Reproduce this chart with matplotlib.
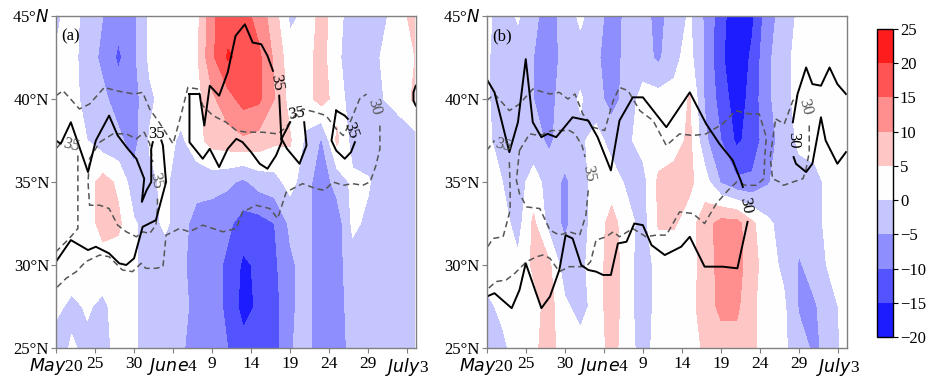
import numpy as np
import matplotlib
matplotlib.use('Agg')
import matplotlib.pyplot as plt

plt.rcParams['font.family'] = ['Liberation Serif', 'DejaVu Serif']
plt.rcParams['mathtext.fontset'] = 'dejavusans'

# ---------------- grid ----------------
days = np.arange(0, 47, 2)          # days since May 20
lats = [25, 27.5, 30, 32.5, 35, 37.5, 40, 42.5, 45]
levels = [-20, -15, -10, -5, 0, 5, 10, 15, 20, 25]
xtick_pos = [0, 5, 10, 15, 20, 25, 30, 35, 40, 45]
xtick_labels = ['$May$20', '25', '30', '$June$4', '9', '14', '19', '24', '29', '$July$3']
ytick_pos = [25, 30, 35, 40, 45]
ytick_labels = ['25°N', '30°N', '35°N', '40°N', '45°$N$']

# ---------------- panel (a) shaded field (rows by latitude) ----------------
a45   = [-1, 2, -2, -5, -8, -6, 1, 3, 3, 3, 14, 18, 17, 13, 7, -1, 1, 7, 2, -3, -3, -1, 3, 7]
a42_5 = [0.5, 2, -3, -6, -11, -6, 1, 3, 3, 4, 14, 20.5, 19, 16, 9, 2, 3, 7, 1, -3, -3, 1, 3, 5]
a40   = [2, 2, -2, -4, -7, -7, -1, 2, 2.5, 3, 9, 13, 17, 16, 10, 3, 3, 7, 3, -3, -3, 0, 2, 6]
a37_5 = [2, 2, 0, -3, -4, -7, 0.5, 2, -1, 3, 7, 8, 9, 8, 6, 5.5, -1, -5.5, 6, -2, -3, -3, -3, -2]
a35   = [2, 2.5, 2.5, 7, 4, -3, -1, 1, -3, -3, -3, -4, -6, -3, -2, 2, -3, -8, -3, 1, 0.5, -3, -3, -3]
a32_5 = [2.5, 2.5, 2.5, 7, 6, 0.5, -2, 1, -3, -7, -8, -9, -12, -12, -10, -4, -3, -8, -8, 1, -1, -3, -3, -3]
a30   = [2.5, 2.5, 2.5, 2.5, 2.5, 1, -3, -3, -4, -7, -8, -11, -16, -14, -11, -6, -3, -8, -7, -2, -2, -4, -4, -3]
a27_5 = [1, -1, 0.5, -1, 2, 1, -3, -3, -3, -7, -8, -11, -17, -14, -12, -6, -3, -8, -7, -3, -3, -3, -3, -3]
a25   = [-2, 0.5, -1, -2, 2, 1, -3, -3, -4, -8, -8, -10, -13, -13, -12, -5.5, -3, -8, -8, -3, -3, -3, -3, -3]

# ---------------- panel (b) shaded field ----------------
b45   = [1, -2, 0.5, -4, -7, -3, 1, -3, -7, -4, -3, -7, -2, 0.5, -6, -13, -19, -16, -7, -3, 1, 2.5, 2.5, 2.5]
b42_5 = [0.5, -2, -2, -5, -8, -3, -2, -4, -8, -3, -3, -6, -1, 1.5, -6, -14, -19, -14, -6, -2, 2, 2.5, 2.5, 2.5]
b40   = [0.5, -2, -2, -5, -7, -2, 0.5, -3, -7, -3, 2, 2, 1, 5.5, -6, -12, -18, -13, -6, -2, 2, 3, 2.5, 2.5]
b37_5 = [1, -2, -2, -3, -6, -2, -1, 2, -2, -1, 2, 2, 3, 6, -4, -10, -16, -13, -7, -3, 1, 2.5, 2.5, 2.5]
b35   = [2, 0, -2, 2, -2, -6, -2, 2, 2.5, -1, -2, 6, 7, 6, 2, -5.5, -9, -9, -5.5, -2, -2, -2, 2, 2.5]
b32_5 = [2, 2, -2, 6, -2, -6, -2, 2, 7, 2, -2, 5.5, 5.5, 3, 8, 12, 12, 6, 1, -2, -3, -2, 2, 2.5]
b30   = [2, 2, 1, 6, 6, -3, -1, 2, 8, 2, -3, 2, 2, 3, 7, 12, 12, 7, 2, -1, -5.5, -3, 1, 2.5]
b27_5 = [-1, 1, 2, 3, 7, 1, -2, 2, 8, 2, -3, 2, 2, 3, 8, 11, 11, 6, 2, 1, -5.5, -5.5, -2, 2]
b25   = [-3, -1, 2, 4, 7, 2, 2, 2, 7, 2, -2, 2, 2, 2.5, 6, 8, 8, 6, 2, 1, -3, -6, -3, 2]

N = None
# ---------------- panel (a) contour lines (day, lat) ----------------
a_solid1 = [(0, 37.5), (0.6, 37.3), (1.9, 38.6), (4.1, 35.6), (5.1, 37.5), (6.8, 39.0), (7.9, 37.8),
            (9.2, 37.0), (10.3, 36.4), (11.3, 35.2), (11.0, 33.8), (11.6, 34.5), (12.2, 35.0),
            (12.2, 37.0), (12.4, 37.4), N, (13.5, 37.5), (13.7, 37.2), (14.1, 35.0), (12.8, 32.7),
            (11.1, 32.3), (10.0, 30.4), (9.0, 30.0), (8.1, 30.1), (6.8, 30.7), (5.1, 31.1),
            (4.1, 30.9), (1.9, 31.5), (0, 30.2)]
a_solid2 = [(17.1, 40.3), (18.4, 40.3), (19.0, 38.4), (19.7, 40.8), (20.9, 40.2), (22.0, 41.6),
            (23.0, 43.8), (24.2, 44.5), (25.2, 43.4), (26.3, 43.3), (27.1, 42.6), (27.8, 41.7), N,
            (28.6, 40.2), (28.9, 37.4), (28.2, 36.6), (27.1, 35.8), (26.1, 36.1), (25.0, 36.8),
            (23.9, 37.4), (23.1, 37.6), (22.0, 37.0), (20.9, 35.9), (19.7, 37.0), (18.8, 36.4),
            (17.1, 37.4), (17.1, 40.3)]
a_solid3 = [(28.9, 37.6), (30.0, 38.6), N, (31.8, 38.6), (32.1, 37.2), (31.2, 36.1), (29.6, 37.0), (28.9, 37.6)]
a_solid4 = [(35.9, 39.3), (37.0, 39.0), (37.4, 38.8), N, (38.3, 37.4), (37.8, 36.8), (37.0, 36.4),
            (35.9, 36.9), (35.3, 37.5), (35.9, 39.3)]
a_solid5 = [(46.1, 40.8), (45.8, 40.4), (45.8, 39.9), (46.1, 39.6)]
a_dash1 = [(0, 40.2), (0.9, 40.5), (3.0, 39.4), (4.3, 39.7), (6.2, 40.7), (7.7, 40.5), (10.0, 40.3),
           (11.1, 40.4), (12.0, 39.4), (13.2, 38.6), (15.0, 37.3), (16.0, 39.0), (16.9, 40.7),
           (18.2, 40.6), (18.8, 39.6), (20.1, 39.0), (21.8, 38.6), (23.1, 38.1), (24.4, 38.0),
           (26.5, 38.0), (28.4, 37.9), (29.5, 38.3), (30.6, 39.0), (31.6, 39.4), (33.3, 39.2),
           (34.6, 39.0), (35.9, 38.2), (36.8, 37.8), (37.6, 38.5), (38.9, 40.0), (39.8, 40.3), N,
           (41.5, 38.4), (41.5, 37.0), (41.0, 36.0), (40.4, 35.2), (40.2, 35.0), (39.3, 34.8),
           (38.0, 34.9), (36.8, 34.8), (35.5, 35.0), (34.4, 34.5), (33.3, 34.6), (31.6, 34.9),
           (29.5, 34.4), (28.4, 32.8), (27.4, 33.4), (25.6, 33.6), (24.8, 33.4), (23.9, 33.2),
           (23.1, 32.2), (21.4, 32.0), (20.1, 32.2), (18.8, 32.4), (17.1, 32.0), (15.8, 32.2),
           (15.0, 32.0), (14.1, 31.8), (13.9, 30.8), (13.7, 29.9), (12.8, 29.8), (11.5, 29.8),
           (10.9, 30.1), (9.8, 29.6), (8.5, 29.7), (6.8, 30.5), (5.6, 30.6), (3.8, 30.2),
           (2.6, 29.6), (1.3, 29.2), (0, 28.6)]
a_dash2 = [(5.6, 37.4), (7.3, 37.9), (9.0, 37.9), (10.3, 37.6), (11.3, 38.0), (12.0, 37.3),
           (12.4, 36.2), N, (13.0, 34.0), (13.0, 33.4), (12.8, 32.4), (12.0, 31.9), (11.1, 32.0),
           (10.3, 31.7), (9.0, 32.0), (7.9, 32.4), (6.8, 33.4), (5.6, 33.6), (4.3, 33.6),
           (4.1, 35.0), (4.3, 36.4), (5.6, 37.4)]
a_dash3 = [(0, 37.0), (0.9, 37.5), N, (2.8, 36.6), (2.8, 35.0), (2.8, 32.2), (1.7, 31.6), (0, 30.8)]
a_labels = [(12.9, 37.9, '35', 0, 'k'), (28.2, 41.0, '35', -80, 'k'), (30.9, 39.1, '35', 10, 'k'),
            (37.8, 38.1, '35', -70, 'k'), (1.9, 37.2, '35', -15, '#555555'),
            (12.8, 35.1, '35', -80, '#555555'), (40.8, 39.5, '30', -75, '#555555')]

# ---------------- panel (b) contour lines ----------------
b_solid1 = [(0, 41.2), (1.0, 40.4), (2.9, 36.8), (4.0, 38.6), (5.0, 42.4), (5.9, 38.6), (7.0, 37.7),
            (7.8, 37.9), (8.9, 37.7), (11.0, 38.9), (13.0, 38.7), (14.2, 37.7), (15.9, 35.7),
            (17.0, 38.7), (18.7, 40.1), (20.0, 40.1), (23.0, 38.3), (26.0, 40.4), (28.1, 38.5),
            (29.8, 37.3), (31.5, 36.3), (32.6, 35.0), (32.8, 34.7), N, (33.4, 32.6), (32.1, 29.8),
            (30.2, 29.9), (27.9, 29.9), (26.0, 31.7), (24.9, 31.1), (22.8, 30.6), (21.1, 31.2),
            (20.0, 32.4), (18.9, 32.5), (17.9, 31.4), (16.8, 31.3), (15.9, 29.4), (14.9, 29.4),
            (14.0, 29.6), (13.0, 29.7), (12.1, 30.0), (11.0, 31.6), (10.1, 31.8), (9.3, 29.7),
            (8.1, 28.1), (7.0, 27.4), (5.0, 30.1), (4.2, 28.5), (3.2, 27.4), (1.0, 28.3), (0, 28.1)]
b_solid2 = [(46.0, 40.3), (44.9, 40.9), (43.9, 41.9), (42.8, 40.8), (41.7, 40.9), (40.9, 41.9),
            (39.8, 40.3), (39.2, 38.6), N, (39.3, 36.5), (39.6, 36.1), (40.9, 35.6), (41.7, 36.1),
            (42.8, 38.9), (43.4, 37.5), (44.9, 36.1), (46.0, 36.8)]
b_dash1 = [(0, 39.9), (1.0, 40.3), (2.9, 39.3), (4.2, 39.7), (5.9, 40.6), (8.1, 40.3), (9.3, 40.4),
           (10.4, 40.0), (11.3, 40.3), (12.3, 39.1), (13.6, 38.3), (15.1, 38.1), (16.2, 39.9),
           (17.0, 40.7), (18.1, 40.5), (19.6, 39.3), (21.3, 38.7), (23.0, 37.2), (24.7, 37.9),
           (26.4, 37.8), (28.1, 37.9), (30.2, 38.5), (31.9, 39.3), (33.6, 39.1), (34.9, 39.1),
           (35.8, 37.7), (35.6, 36.5), (35.5, 35.2), (34.5, 34.8), (33.2, 34.8), (32.0, 35.0),
           (30.9, 34.5), (29.4, 33.7), (27.9, 32.5), (26.4, 33.1), (24.7, 33.2), (23.0, 31.8),
           (21.7, 31.8), (20.4, 31.7), (18.7, 32.2), (17.0, 31.7), (16.2, 32.0), (15.3, 31.7),
           (14.0, 31.5), (13.3, 30.2), (12.7, 29.9), (10.6, 29.9), (9.3, 29.6), (8.1, 30.4),
           (7.2, 30.6), (6.4, 30.5), (5.1, 30.2), (3.6, 29.5), (2.5, 29.1), (1.2, 29.0), (0, 28.5)]
b_dash2 = [(37.0, 38.8), (38.1, 38.5), (39.2, 39.9), (39.8, 40.2), N, (41.3, 38.4), (41.3, 36.8),
           (40.9, 35.8), (40.5, 35.2), (39.2, 35.0), (38.0, 34.8), (37.5, 35.0), (36.6, 35.2),
           (36.3, 36.5), (37.0, 38.8)]
b_dash3 = [(4.2, 36.9), (5.5, 37.9), (6.8, 37.8), (8.3, 38.1), (10.6, 38.1), (11.3, 37.9),
           (12.2, 37.2), (12.6, 36.5), N, (13.0, 34.5), (12.7, 33.0), (11.9, 31.8), (10.6, 32.0),
           (9.3, 31.8), (8.1, 32.1), (6.8, 33.4), (5.1, 33.5), (4.2, 34.3), (3.8, 35.1), (4.2, 36.9)]
b_dash4 = [(0, 36.9), (1.0, 37.5), N, (2.9, 36.2), (3.0, 34.5), (3.0, 33.3), (2.1, 31.7),
           (0.8, 31.6), (0, 31.0)]
b_labels = [(33.1, 33.6, '30', -80, 'k'), (39.2, 37.5, '30', -90, 'k'),
            (2.1, 37.2, '35', -15, '#555555'), (13.0, 35.5, '35', -80, '#555555'),
            (40.8, 39.5, '30', -75, '#555555')]

# ---------------- drawing ----------------
fig = plt.figure(figsize=(9.26, 3.8), dpi=100)
ax1 = fig.add_axes([0.0605, 0.0842, 0.3885, 0.8737])
ax2 = fig.add_axes([0.5256, 0.0842, 0.3888, 0.8737])
cax = fig.add_axes([0.947, 0.1132, 0.0173, 0.8105])


def line_xy(pts):
    arr = np.array([(np.nan, np.nan) if p is None else p for p in pts], dtype=float)
    return arr[:, 0], arr[:, 1]


def draw_panel(ax, rows, solids, dashes, labels, tag):
    field = np.array(rows, dtype=float)
    cf = ax.contourf(days, lats, field, levels=levels, cmap='bwr')
    for pts in dashes:
        x, y = line_xy(pts)
        ax.plot(x, y, color='#555555', lw=1.1, ls=(0, (4, 2.5)))
    for pts in solids:
        x, y = line_xy(pts)
        ax.plot(x, y, color='black', lw=1.4)
    for d, l, t, r, c in labels:
        ax.text(d, l, t, rotation=r, color=c, fontsize=12, ha='center', va='center')
    ax.text(0.7, 43.8, tag, fontsize=12, ha='left', va='center')
    ax.set_xlim(0, 46.1)
    ax.set_ylim(25, 45)
    ax.set_xticks(xtick_pos)
    ax.set_xticklabels(xtick_labels, fontsize=12.5)
    ax.set_yticks(ytick_pos)
    ax.set_yticklabels(ytick_labels, fontsize=12)
    for s in ax.spines.values():
        s.set_color('#808080')
        s.set_linewidth(1.0)
    ax.tick_params(axis='both', direction='out', length=3.5, color='#808080', pad=1.5)
    ax.tick_params(axis='x', pad=2.5)
    return cf


cf = draw_panel(ax1, [a25, a27_5, a30, a32_5, a35, a37_5, a40, a42_5, a45],
                [a_solid1, a_solid2, a_solid3, a_solid4, a_solid5],
                [a_dash1, a_dash2, a_dash3], a_labels, '(a)')
draw_panel(ax2, [b25, b27_5, b30, b32_5, b35, b37_5, b40, b42_5, b45],
           [b_solid1, b_solid2], [b_dash1, b_dash2, b_dash3, b_dash4], b_labels, '(b)')

cb = fig.colorbar(cf, cax=cax, ticks=levels)
cb.ax.tick_params(labelsize=12, length=3.5, direction='out', pad=1.5)
cb.outline.set_linewidth(1.0)

fig.savefig('out.png', dpi=100)
